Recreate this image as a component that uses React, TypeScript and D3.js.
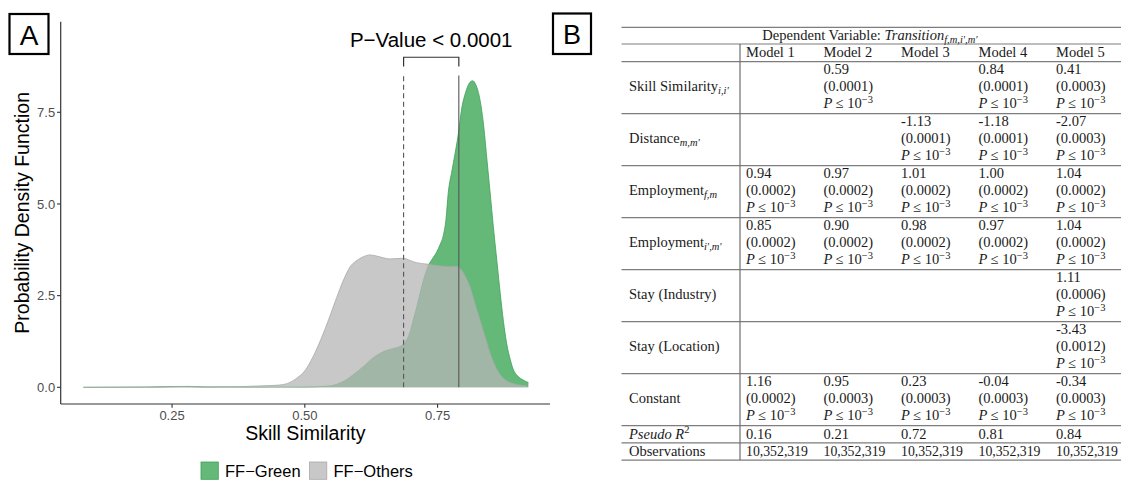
import React from 'react';
import * as d3 from 'd3';

// ---------- Panel A data ----------
const othersX = [0.083, 0.15, 0.22, 0.27, 0.32, 0.38, 0.42, 0.45, 0.47, 0.485, 0.5, 0.516, 0.53, 0.547, 0.56, 0.573, 0.585, 0.597, 0.61, 0.623, 0.635, 0.648, 0.66, 0.673, 0.686, 0.698, 0.71, 0.73, 0.755, 0.775, 0.785, 0.795, 0.803, 0.811, 0.82, 0.83, 0.84, 0.849, 0.858, 0.868, 0.88, 0.893, 0.905, 0.918];
const othersY = [0.0, 0.005, 0.01, 0.02, 0.01, 0.02, 0.04, 0.06, 0.12, 0.25, 0.45, 0.85, 1.3, 1.93, 2.45, 2.93, 3.28, 3.45, 3.56, 3.61, 3.58, 3.53, 3.5, 3.51, 3.52, 3.46, 3.4, 3.36, 3.31, 3.29, 3.3, 3.2, 3.0, 2.74, 2.3, 1.83, 1.35, 0.93, 0.6, 0.34, 0.18, 0.1, 0.06, 0.04];
const greenX = [0.083, 0.2, 0.25, 0.28, 0.31, 0.4, 0.5, 0.54, 0.56, 0.575, 0.59, 0.61, 0.625, 0.642, 0.655, 0.667, 0.68, 0.69, 0.698, 0.704, 0.711, 0.717, 0.725, 0.733, 0.741, 0.748, 0.755, 0.761, 0.766, 0.77, 0.777, 0.783, 0.79, 0.795, 0.803, 0.81, 0.816, 0.822, 0.83, 0.837, 0.843, 0.849, 0.855, 0.862, 0.868, 0.874, 0.88, 0.887, 0.893, 0.9, 0.911, 0.921];
const greenY = [0.0, 0.005, 0.02, 0.025, 0.01, 0.005, 0.01, 0.03, 0.08, 0.18, 0.33, 0.56, 0.76, 0.93, 1.01, 1.06, 1.12, 1.25, 1.5, 1.83, 2.2, 2.56, 3.0, 3.33, 3.52, 3.68, 3.9, 4.15, 4.6, 5.29, 5.9, 6.38, 7.0, 7.56, 8.05, 8.3, 8.36, 8.25, 7.83, 7.1, 6.2, 5.3, 4.38, 3.4, 2.56, 1.8, 1.2, 0.75, 0.47, 0.32, 0.2, 0.13];
const xTicks = [0.25, 0.5, 0.75];
const yTicks = [0, 2.5, 5, 7.5];
const meanOthers = 0.686;
const meanGreen = 0.79;
const meanLineTop = 8.5;
const bracketTop = 9.0;
const bracketLeg = 8.75;
const pLabel = 'P\u2212Value < 0.0001';
const legendLabels = ['FF\u2212Green', 'FF\u2212Others'];

// ---------- Panel B data ----------
const models = ['Model 1', 'Model 2', 'Model 3', 'Model 4', 'Model 5'];
const rowNames = ['Skill Similarity', 'Distance', 'Employment', 'Employment', 'Stay (Industry)', 'Stay (Location)', 'Constant'];
const rowSubs = ['i,i\u2032', 'm,m\u2032', 'f,m', 'i\u2032,m\u2032', '', '', ''];
const coefSkill = [null, 0.59, null, 0.84, 0.41];
const seSkill = [null, 0.0001, null, 0.0001, 0.0003];
const coefDistance = [null, null, -1.13, -1.18, -2.07];
const seDistance = [null, null, 0.0001, 0.0001, 0.0003];
const coefEmpFM = [0.94, 0.97, 1.01, 1.0, 1.04];
const seEmpFM = [0.0002, 0.0002, 0.0002, 0.0002, 0.0002];
const coefEmpIM = [0.85, 0.9, 0.98, 0.97, 1.04];
const seEmpIM = [0.0002, 0.0002, 0.0002, 0.0002, 0.0002];
const coefStayInd = [null, null, null, null, 1.11];
const seStayInd = [null, null, null, null, 0.0006];
const coefStayLoc = [null, null, null, null, -3.43];
const seStayLoc = [null, null, null, null, 0.0012];
const coefConst = [1.16, 0.95, 0.23, -0.04, -0.34];
const seConst = [0.0002, 0.0003, 0.0003, 0.0003, 0.0003];
const pseudoR2 = [0.16, 0.21, 0.72, 0.81, 0.84];
const observations = [10352319, 10352319, 10352319, 10352319, 10352319];

const coefRows = [coefSkill, coefDistance, coefEmpFM, coefEmpIM, coefStayInd, coefStayLoc, coefConst];
const seRows = [seSkill, seDistance, seEmpFM, seEmpIM, seStayInd, seStayLoc, seConst];

const GREEN_FILL = '#64b979';
const GREEN_STROKE = '#3e9f57';
const GRAY_FILL = '#b6b6b6';
const GRAY_STROKE = '#a8a8a8';
const SANS = "'Liberation Sans', Arial, sans-serif";
const SERIF = "'Liberation Serif', 'Times New Roman', serif";

const fmtCoef = (v: number) => (v < 0 ? '-' : '') + Math.abs(v).toFixed(2);
const fmtSe = (v: number) => '(' + v.toFixed(4) + ')';
const fmtObs = d3.format(',');

function PanelA() {
  const x = d3.scaleLinear().domain([0.0403, 0.9617]).range([60.7, 550]);
  const y = d3.scaleLinear().domain([-0.455, 9.97]).range([404, 21.7]);
  const others = othersX.map((v, i) => [v, othersY[i]] as [number, number]);
  const green = greenX.map((v, i) => [v, greenY[i]] as [number, number]);
  const area = d3
    .area<[number, number]>()
    .x((d) => x(d[0]))
    .y0(y(0))
    .y1((d) => y(d[1]))
    .curve(d3.curveMonotoneX);
  const line = d3
    .line<[number, number]>()
    .x((d) => x(d[0]))
    .y((d) => y(d[1]))
    .curve(d3.curveMonotoneX);
  const x0 = x.range()[0];
  const x1 = x.range()[1];
  const yb = y.range()[0];
  const yt = y.range()[1];
  const bL = x(meanOthers);
  const bR = x(meanGreen);
  return (
    <g>
      {/* label box A */}
      <rect x={9.5} y={14} width={39} height={40} fill="none" stroke="#000" strokeWidth={2.2} />
      <text x={29} y={44.5} textAnchor="middle" fontFamily={SANS} fontSize={28} fill="#000">A</text>

      {/* densities */}
      <path d={area(green) || ''} fill={GREEN_FILL} />
      <path d={line(green) || ''} fill="none" stroke={GREEN_STROKE} strokeWidth={0.8} />
      <path d={area(others) || ''} fill={GRAY_FILL} fillOpacity={0.75} />
      <path d={line(others) || ''} fill="none" stroke={GRAY_STROKE} strokeWidth={0.8} />

      {/* mean lines */}
      <line x1={bL} x2={bL} y1={y(0)} y2={y(meanLineTop)} stroke="#555" strokeWidth={1.1} strokeDasharray="5,3.5" />
      <line x1={bR} x2={bR} y1={y(0)} y2={y(meanLineTop)} stroke="#555" strokeWidth={1.1} />

      {/* bracket */}
      <path
        d={`M${bL},${y(bracketLeg)}V${y(bracketTop)}H${bR}V${y(bracketLeg)}`}
        fill="none"
        stroke="#333"
        strokeWidth={1.2}
      />
      <text x={(bL + bR) / 2} y={46.7} textAnchor="middle" fontFamily={SANS} fontSize={20.5} fill="#000">
        {pLabel}
      </text>

      {/* axes */}
      <line x1={x0} x2={x0} y1={yt} y2={yb} stroke="#333" strokeWidth={1.2} />
      <line x1={x0} x2={x1} y1={yb} y2={yb} stroke="#333" strokeWidth={1.2} />
      {yTicks.map((t) => (
        <g key={'y' + t}>
          <line x1={x0 - 3.7} x2={x0} y1={y(t)} y2={y(t)} stroke="#333" strokeWidth={1.1} />
          <text x={x0 - 5.5} y={y(t)} dy="0.35em" textAnchor="end" fontFamily={SANS} fontSize={13} fill="#4d4d4d">
            {t.toFixed(1)}
          </text>
        </g>
      ))}
      {xTicks.map((t) => (
        <g key={'x' + t}>
          <line x1={x(t)} x2={x(t)} y1={yb} y2={yb + 3.7} stroke="#333" strokeWidth={1.1} />
          <text x={x(t)} y={yb + 15.5} textAnchor="middle" fontFamily={SANS} fontSize={13} fill="#4d4d4d">
            {t.toFixed(2)}
          </text>
        </g>
      ))}
      <text x={(x0 + x1) / 2} y={440} textAnchor="middle" fontFamily={SANS} fontSize={19.5} fill="#000">
        Skill Similarity
      </text>
      <text
        transform={`translate(22.5,${(yt + yb) / 2}) rotate(-90)`}
        textAnchor="middle"
        dy="0.35em"
        fontFamily={SANS}
        fontSize={19.5}
        fill="#000"
      >
        Probability Density Function
      </text>

      {/* legend */}
      <rect x={201} y={462} width={17.3} height={17.3} fill={GREEN_FILL} stroke={GREEN_STROKE} strokeWidth={0.8} />
      <text x={225} y={476.5} fontFamily={SANS} fontSize={16.5} fill="#000">{legendLabels[0]}</text>
      <rect x={309.5} y={462} width={17.3} height={17.3} fill="#c8c8c8" stroke={GRAY_STROKE} strokeWidth={0.8} />
      <text x={333.5} y={476.5} fontFamily={SANS} fontSize={16.5} fill="#000">{legendLabels[1]}</text>
    </g>
  );
}

function PVal({ x, y }: { x: number; y: number }) {
  return (
    <text x={x} y={y} fontFamily={SERIF} fontSize={14.5} fill="#1a1a1a">
      <tspan fontStyle="italic">P</tspan>
      <tspan dx={3.5}>{'\u2264'}</tspan>
      <tspan dx={3.5}>10</tspan>
      <tspan dy={-5.5} fontSize={10.5}>{'\u2212'}3</tspan>
    </text>
  );
}

function PanelB() {
  const tLeft = 621.5;
  const tRight = 1121;
  const divX = 740;
  const tableTop = 27.3;
  const headerH = 16.7;
  const modelH = 17.7;
  const bigH = 52;
  const smallH = 17.2;
  const colX = d3.scalePoint<string>().domain(models).range([746, 1056]);
  const labelX = 629;
  const rowsTop = tableTop + headerH + modelH;
  const bigTops = rowNames.map((_, i) => rowsTop + i * bigH);
  const pseudoTop = rowsTop + rowNames.length * bigH;
  const obsTop = pseudoTop + smallH;
  const bottom = obsTop + smallH;
  const hLines = [tableTop, tableTop + headerH, rowsTop, ...bigTops.slice(1), pseudoTop, obsTop, bottom];
  const fontProps = { fontFamily: SERIF, fontSize: 14.5, fill: '#1a1a1a' };
  return (
    <g>
      <rect x={553} y={13.5} width={38} height={40.5} fill="none" stroke="#000" strokeWidth={2.2} />
      <text x={572} y={44} textAnchor="middle" fontFamily={SANS} fontSize={27} fill="#000">B</text>

      {hLines.map((ly, i) => (
        <line key={'h' + i} x1={tLeft} x2={tRight} y1={ly} y2={ly} stroke="#7d7d7d" strokeWidth={1.2} />
      ))}
      <line x1={divX} x2={divX} y1={tableTop + headerH} y2={bottom} stroke="#6e6e6e" strokeWidth={1.2} />

      <text x={870} y={tableTop + 12.4} textAnchor="middle" {...fontProps}>
        <tspan>Dependent Variable: </tspan>
        <tspan fontStyle="italic">Transition</tspan>
        <tspan dy={3.5} fontSize={10.5} fontStyle="italic">f,m,i{'\u2032'},m{'\u2032'}</tspan>
      </text>
      {models.map((m) => (
        <text key={m} x={colX(m)} y={tableTop + headerH + 12.6} {...fontProps}>{m}</text>
      ))}

      {rowNames.map((name, r) => {
        const top = bigTops[r];
        return (
          <g key={'r' + r}>
            <text x={labelX} y={top + 29} {...fontProps}>
              <tspan>{name}</tspan>
              {rowSubs[r] ? (
                <tspan dy={3.5} fontSize={10.5} fontStyle="italic">{rowSubs[r]}</tspan>
              ) : null}
            </text>
            {models.map((m, c) => {
              const v = coefRows[r][c];
              const s = seRows[r][c];
              if (v === null || s === null) return null;
              const cx = colX(m) as number;
              return (
                <g key={m}>
                  <text x={cx} y={top + 11.8} {...fontProps}>{fmtCoef(v)}</text>
                  <text x={cx} y={top + 29.1} {...fontProps}>{fmtSe(s)}</text>
                  <PVal x={cx} y={top + 46.4} />
                </g>
              );
            })}
          </g>
        );
      })}

      <text x={labelX} y={pseudoTop + 12.8} {...fontProps}>
        <tspan fontStyle="italic">Pseudo R</tspan>
        <tspan dy={-5.5} fontSize={10.5}>2</tspan>
      </text>
      {models.map((m, c) => (
        <text key={'p' + m} x={colX(m)} y={pseudoTop + 12.8} {...fontProps}>{pseudoR2[c].toFixed(2)}</text>
      ))}
      <text x={labelX} y={obsTop + 12.8} {...fontProps}>Observations</text>
      {models.map((m, c) => (
        <text
          key={'o' + m}
          x={colX(m)}
          y={obsTop + 12.8}
          textLength={62}
          lengthAdjust="spacingAndGlyphs"
          {...fontProps}
        >
          {fmtObs(observations[c])}
        </text>
      ))}
    </g>
  );
}

export default function App() {
  return (
    <svg
      width={1121}
      height={480}
      viewBox="0 0 1121 480"
      style={{ position: 'absolute', left: 0, top: 0, background: '#fff' }}
    >
      <rect x={0} y={0} width={1121} height={480} fill="#fff" />
      <PanelA />
      <PanelB />
    </svg>
  );
}
